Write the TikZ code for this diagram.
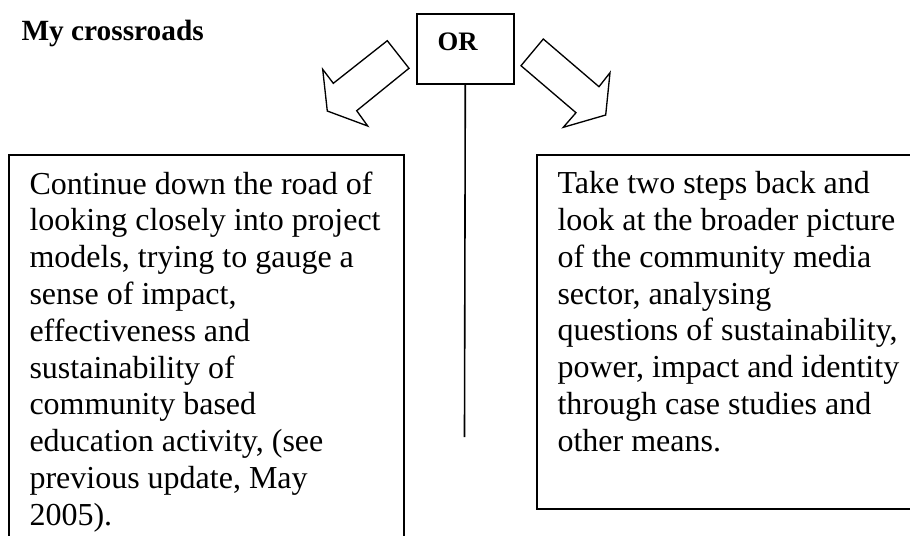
\documentclass[tikz,border=0pt]{standalone}
\usepackage{fontspec}
\setmainfont{Liberation Serif}
\usetikzlibrary{arrows.meta}
\hyphenpenalty=10000
\exhyphenpenalty=10000

\begin{document}
\begin{tikzpicture}[
    x=0.375pt, y=-0.375pt,
    frame/.style={
        draw=black, line width=0.6pt, inner sep=0pt, anchor=north west
    },
    bodytext/.style={
        inner sep=0pt, anchor=north west, text width=132.4pt, align=flush left,
        font=\fontsize{12}{13.8}\selectfont
    },
    boldlabel/.style={anchor=base west, inner sep=0pt},
    hollowarrow/.style={draw=black, line width=0.5pt, line join=miter, fill=white}
]
\useasboundingbox (0,0) rectangle (910,535);
\clip (0,0) rectangle (910,535);

% --- Title ---
\node[boldlabel, font=\fontsize{11}{13}\selectfont\bfseries] (title) at (21,40.5) {My crossroads};

% --- OR box and its stem ---
\node[frame, minimum width=97*0.375pt, minimum height=70*0.375pt] (orbox) at (416,13) {};
\node[boldlabel, font=\fontsize{10}{12}\selectfont\bfseries] (ortext) at (437,50.7) {OR};
\coordinate (stemend) at (464.5,437);
\draw[line width=0.6pt] (orbox.south) -- (stemend);

% --- Hollow block arrows ---
\draw[hollowarrow] (387.3,40.7) -- (409,68.3) -- (356.7,110.7) -- (367.7,126)
    -- (327.3,111) -- (322.7,69.3) -- (333.3,83.3) -- cycle;
\draw[hollowarrow] (543.3,39) -- (521,65.7) -- (576,112.7) -- (563.3,127.3)
    -- (605.7,115) -- (610,72.7) -- (599,86.7) -- cycle;

% --- Option boxes ---
\node[frame, minimum width=395*0.375pt, minimum height=440*0.375pt] (leftbox) at (8,154) {};
\node[frame, minimum width=430*0.375pt, minimum height=354*0.375pt] (rightbox) at (536,154) {};

\node[bodytext] (lefttext) at (29,171) {%
    Continue down the road of looking closely into project models, trying to gauge a
    sense of impact, effectiveness and sustainability of community based education
    activity, (see previous update, May 2005).%
};
\node[bodytext, text width=134pt] (righttext) at (557,171) {%
    Take two steps back and\\
    look at the broader picture\\
    of the community media\\
    sector, analysing\\
    questions of sustainability,\\
    power, impact and identity\\
    through case studies and\\
    other means.%
};

\end{tikzpicture}
\end{document}
